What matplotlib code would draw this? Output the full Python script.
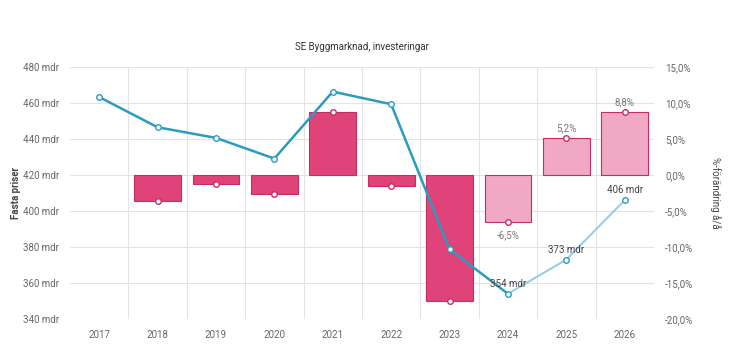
import matplotlib.pyplot as plt
import numpy as np

years = ['2017', '2018', '2019', '2020', '2021', '2022', '2023', '2024', '2025', '2026']
level = [463.3, 446.5, 440.6, 429.1, 466.3, 459.3, 378.7, 354, 373, 406]   # mdr, fasta priser
change = [np.nan, -3.6, -1.3, -2.6, 8.7, -1.5, -17.5, -6.5, 5.2, 8.8]      # % å/å
forecast_from = 7   # 2024 and later are prognos
value_labels = {7: '354 mdr', 8: '373 mdr', 9: '406 mdr'}
pct_labels = {7: '-6,5%', 8: '5,2%', 9: '8,8%'}

dark_pink = '#e0437a'
light_pink = '#f1a8c4'
dark_blue = '#2b9bc0'
light_blue = '#93d2e2'

plt.rcParams['font.family'] = ['Roboto', 'DejaVu Sans']

fig = plt.figure(figsize=(7.42, 3.6), dpi=100)
ax = fig.add_axes([0.0943, 0.114, 0.787, 0.700])
ax2 = ax.twinx()

x = np.arange(len(years))

# bars: % change, right axis
for i in range(1, len(years)):
	col = dark_pink if i < forecast_from else light_pink
	ax2.bar(x[i], change[i], width=0.8, color=col, edgecolor='#c2305f', linewidth=0.8, zorder=2)
	ax2.plot(x[i], change[i], 'o', ms=4, mfc='white', mec='#c2305f', mew=1, zorder=3)
for i, t in pct_labels.items():
	off = 7 if change[i] > 0 else -10
	ax2.annotate(t, (x[i], change[i]), xytext=(0, off), textcoords='offset points',
		ha='center', va='center', fontsize=7, color='#777777')

# line: level, left axis
ax.plot(x[:forecast_from + 1], level[:forecast_from + 1], color=dark_blue, lw=1.8, zorder=4)
ax.plot(x[forecast_from:], level[forecast_from:], color=light_blue, lw=1.5, zorder=4)
ax.plot(x, level, 'o', ms=4, mfc='white', mec=dark_blue, mew=1, zorder=5)
for i, t in value_labels.items():
	ax.annotate(t, (x[i], level[i]), xytext=(0, 7), textcoords='offset points',
		ha='center', va='center', fontsize=7, color='#444444', zorder=6)

ax.set_zorder(ax2.get_zorder() + 1)
ax.patch.set_visible(False)

ax.set_xlim(-0.5, len(years) - 0.5)
ax.set_ylim(340, 480)
ax.set_yticks(np.arange(340, 481, 20))
ax.set_yticklabels([f'{v} mdr' for v in range(340, 481, 20)])
ax2.set_ylim(-20, 15)
ax2.set_yticks(np.arange(-20, 16, 5))
ax2.set_yticklabels([f'{v:.1f}%'.replace('.', ',') for v in range(-20, 16, 5)])
ax.set_xticks(x)
ax.set_xticklabels(years)

# grid: horizontal at ticks, vertical between categories
for v in range(340, 481, 20):
	ax2.axhline((v - 420) / 4, color='#e3e3e3', lw=0.8, zorder=0)
for b in np.arange(0.5, len(years) - 1, 1):
	ax2.axvline(b, color='#e3e3e3', lw=0.8, zorder=0)

for a in (ax, ax2):
	for s in a.spines.values():
		s.set_visible(False)
	a.tick_params(length=0, labelsize=7, colors='#666666')
ax.tick_params(axis='x', pad=8)
ax.tick_params(axis='y', pad=8)
ax2.tick_params(axis='y', pad=8)

ax.set_ylabel('Fasta priser', fontsize=7, fontweight='bold', color='#444444', labelpad=1)
ax2.set_ylabel('%-förändring å/å', fontsize=7, color='#444444', rotation=270, labelpad=20)
ax.set_title('SE Byggmarknad, investeringar', fontsize=7, color='#333333', pad=12)

fig.savefig('out.png', dpi=100)
